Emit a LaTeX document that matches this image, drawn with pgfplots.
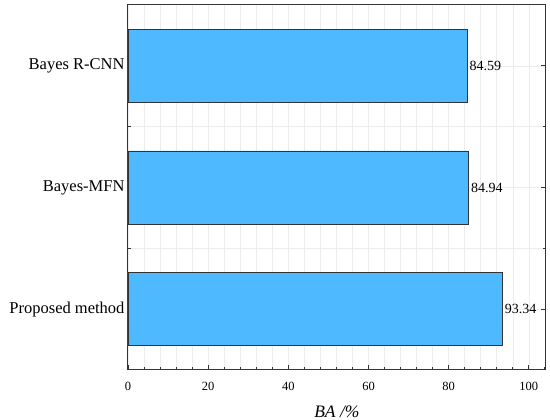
\documentclass[border=0pt]{standalone}
\usepackage{pgfplots}
\pgfplotsset{compat=1.18}
\usepackage{fontspec}
\setmainfont{Liberation Serif}
\definecolor{barblue}{RGB}{79,185,255}
\definecolor{gridgray}{RGB}{236,236,236}
\begin{document}
\begin{tikzpicture}
\useasboundingbox (-128pt,-50pt) rectangle (422pt,370pt);
\begin{axis}[
  at={(0,0)}, anchor=south west,
  scale only axis,
  width=417.7pt, height=365pt,
  xbar,
  xmin=0, xmax=104.2,
  ymin=-0.5, ymax=2.5,
  bar width=0.6,
  ytick={0,1,2},
  yticklabels={Proposed method,Bayes-MFN,Bayes R-CNN},
  minor ytick={0.5,1.5},
  xtick={0,20,40,60,80,100},
  minor xtick={4,8,12,16,24,28,32,36,44,48,52,56,64,68,72,76,84,88,92,96,104},
  tick align=inside,
  xtick pos=bottom,
  ytick pos=both,
  yticklabel style={font=\fontsize{16.5}{18}\selectfont},
  xticklabel style={font=\fontsize{12.5}{14}\selectfont, yshift=-9pt},
  /pgf/number format/assume math mode=true,
  xlabel={\textit{BA /\%}},
  xlabel style={font=\fontsize{17.5}{19}\selectfont, yshift=-8pt},
  axis line style={line width=1pt, black!80},
  major tick length=5pt, minor tick length=3pt,
  every tick/.style={black!80, line width=0.9pt},
  grid=both,
  major grid style={gridgray, line width=0.6pt},
  minor grid style={gridgray, line width=0.6pt},
  nodes near coords,
  nodes near coords style={font=\fontsize{14}{15}\selectfont, /pgf/number format/.cd, fixed, fixed zerofill, precision=2, /tikz/.cd, xshift=-1pt},
]
\addplot[fill=barblue, draw=black!80, line width=0.6pt] coordinates {(93.34,0) (84.94,1) (84.59,2)};
\end{axis}
\end{tikzpicture}
\end{document}
